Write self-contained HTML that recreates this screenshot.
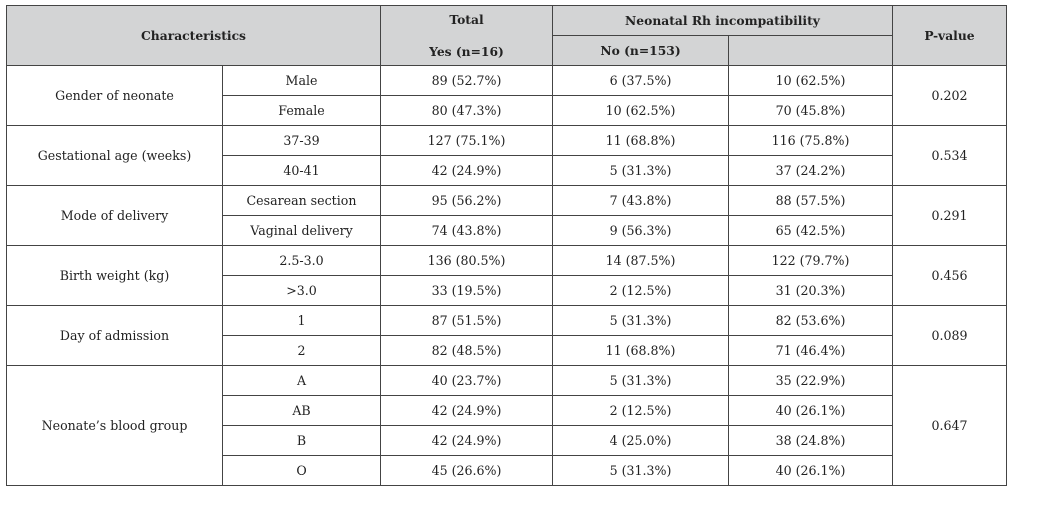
<!DOCTYPE html>
<html><head><style>
body{margin:0;background:#fff;width:1056px;height:517px;overflow:hidden;}
table{position:absolute;left:6px;top:5px;border-collapse:collapse;table-layout:fixed;font-family:"DejaVu Serif","Liberation Serif",serif;font-size:12.6px;color:#222;}
td{border:1px solid #444;text-align:center;padding:0;height:29px;white-space:nowrap;}
.h td{background:#d3d4d5;font-weight:bold;font-size:12.3px;}
</style></head><body>
<table>
<colgroup><col style="width:216px"><col style="width:158px"><col style="width:172px"><col style="width:176px"><col style="width:164px"><col style="width:114px"></colgroup>
<tr class="h"><td colspan="2" rowspan="2">Characteristics</td><td style="border-bottom:none;padding-bottom:3px;height:26px">Total</td><td colspan="2">Neonatal Rh incompatibility</td><td rowspan="2">P-value</td></tr>
<tr class="h"><td style="border-top:none;padding-top:3px;height:26px">Yes (n=16)</td><td>No (n=153)</td><td></td></tr>
<tr><td rowspan="2">Gender of neonate</td><td>Male</td><td>89 (52.7%)</td><td>6 (37.5%)</td><td>10 (62.5%)</td><td rowspan="2">0.202</td></tr>
<tr><td>Female</td><td>80 (47.3%)</td><td>10 (62.5%)</td><td>70 (45.8%)</td></tr>
<tr><td rowspan="2">Gestational age (weeks)</td><td>37-39</td><td>127 (75.1%)</td><td>11 (68.8%)</td><td>116 (75.8%)</td><td rowspan="2">0.534</td></tr>
<tr><td>40-41</td><td>42 (24.9%)</td><td>5 (31.3%)</td><td>37 (24.2%)</td></tr>
<tr><td rowspan="2">Mode of delivery</td><td>Cesarean section</td><td>95 (56.2%)</td><td>7 (43.8%)</td><td>88 (57.5%)</td><td rowspan="2">0.291</td></tr>
<tr><td>Vaginal delivery</td><td>74 (43.8%)</td><td>9 (56.3%)</td><td>65 (42.5%)</td></tr>
<tr><td rowspan="2">Birth weight (kg)</td><td>2.5-3.0</td><td>136 (80.5%)</td><td>14 (87.5%)</td><td>122 (79.7%)</td><td rowspan="2">0.456</td></tr>
<tr><td>&gt;3.0</td><td>33 (19.5%)</td><td>2 (12.5%)</td><td>31 (20.3%)</td></tr>
<tr><td rowspan="2">Day of admission</td><td>1</td><td>87 (51.5%)</td><td>5 (31.3%)</td><td>82 (53.6%)</td><td rowspan="2">0.089</td></tr>
<tr><td>2</td><td>82 (48.5%)</td><td>11 (68.8%)</td><td>71 (46.4%)</td></tr>
<tr><td rowspan="4">Neonate’s blood group</td><td>A</td><td>40 (23.7%)</td><td>5 (31.3%)</td><td>35 (22.9%)</td><td rowspan="4">0.647</td></tr>
<tr><td>AB</td><td>42 (24.9%)</td><td>2 (12.5%)</td><td>40 (26.1%)</td></tr>
<tr><td>B</td><td>42 (24.9%)</td><td>4 (25.0%)</td><td>38 (24.8%)</td></tr>
<tr><td>O</td><td>45 (26.6%)</td><td>5 (31.3%)</td><td>40 (26.1%)</td></tr>
</table>
</body></html>
